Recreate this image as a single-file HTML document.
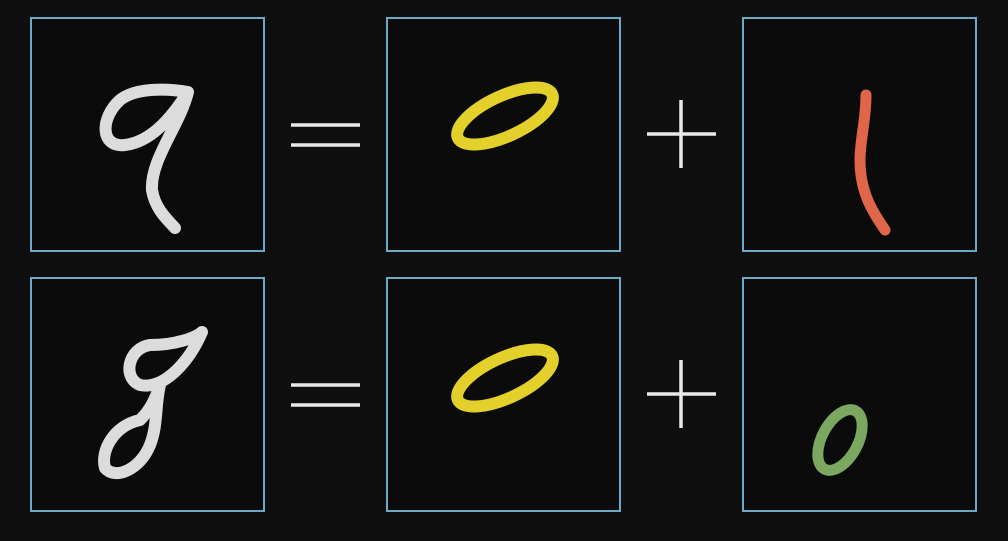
<!DOCTYPE html>
<html><head><style>
html,body{margin:0;padding:0;background:#0f0f10;}
</style></head><body>
<svg width="1008" height="536" viewBox="0 0 1008 536" xmlns="http://www.w3.org/2000/svg">
<rect width="1008" height="536" fill="#0f0f10"/>
<g fill="#0b0b0b" stroke="#6fa9c9" stroke-width="2">
<rect x="31" y="18" width="233" height="233"/>
<rect x="387" y="18" width="233" height="233"/>
<rect x="743" y="18" width="233" height="233"/>
<rect x="31" y="278" width="233" height="233"/>
<rect x="387" y="278" width="233" height="233"/>
<rect x="743" y="278" width="233" height="233"/>
</g>
<g stroke="#e8e8e8" stroke-width="3.5" fill="none">
<line x1="291" y1="125" x2="360" y2="125"/><line x1="291" y1="145" x2="360" y2="145"/>
<line x1="291" y1="385" x2="360" y2="385"/><line x1="291" y1="405" x2="360" y2="405"/>
<line x1="647" y1="134" x2="716" y2="134"/><line x1="681" y1="100" x2="681" y2="168"/>
<line x1="647" y1="394" x2="716" y2="394"/><line x1="681" y1="360" x2="681" y2="428"/>
</g>
<g fill="none" stroke-linecap="round" stroke-linejoin="round" stroke-width="12">
<path d="M188,92 C165,88 135,88 120,100 C100,118 100,148 125,145 C150,142 170,120 188,92 C180,125 150,160 152,190 C155,210 170,222 175,228" stroke="#dcdcdc"/>
<path d="M202,332 C195,338 175,345 150,345 C128,348 122,378 140,385 C165,390 190,360 202,332 M160,385 C155,400 150,410 140,420 C115,425 100,450 105,468 C115,480 140,470 150,445 C158,425 155,405 160,385" stroke="#dcdcdc"/>
<ellipse cx="505" cy="116" rx="52" ry="20" transform="rotate(-25 505 116)" stroke="#e3d02a"/>
<ellipse cx="505" cy="378" rx="52" ry="20" transform="rotate(-25 505 378)" stroke="#e3d02a"/>
<path d="M866,95 C866,120 860,140 860,160 C860,195 875,215 885,230" stroke="#e0664a" stroke-width="11"/>
<ellipse cx="840" cy="440" rx="18" ry="33" transform="rotate(28 840 440)" stroke="#7aa860" stroke-width="11"/>
</g>
</svg>
</body></html>
